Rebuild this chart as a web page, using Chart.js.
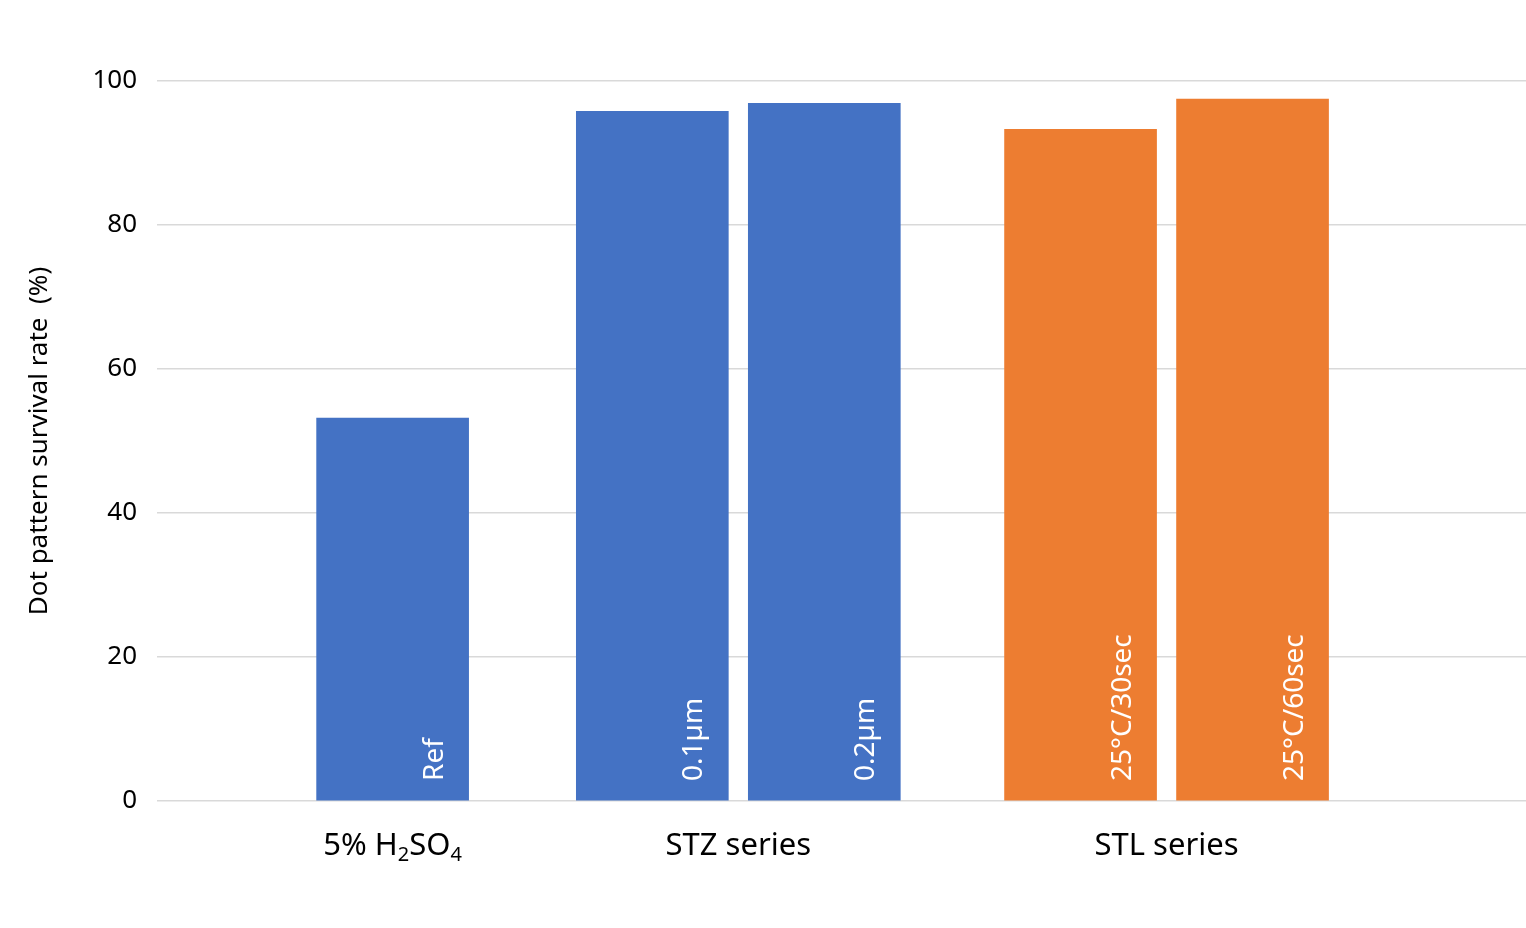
<!DOCTYPE html>
<html><head><meta charset="utf-8">
<script src="https://cdn.jsdelivr.net/npm/chart.js@4/dist/chart.umd.min.js"></script>
<style>html,body{margin:0;background:#fff}#wrap{width:1526px;height:928px}</style>
</head><body><div id="wrap"><canvas id="canvas"></canvas></div>
<script>
var barLabels = ['Ref', '0.1µm', '0.2µm', '25°C/30sec', '25°C/60sec'];
var barPos = [1.37, 2.88, 3.88, 5.37, 6.37];
var values = [53.2, 95.8, 96.9, 93.3, 97.5];
var barColors = ['#4472c4', '#4472c4', '#4472c4', '#ed7d31', '#ed7d31'];
var groupLabels = ['5% H2SO4', 'STZ series', 'STL series'];
var groupPos = [1.37, 3.38, 5.87];
var yTicks = [0, 20, 40, 60, 80, 100];

var FONT = '"Noto Sans", sans-serif';

var textPlugin = {
  id: 'texts',
  afterDatasetsDraw: function(chart) {
    var ctx = chart.ctx;
    var meta = chart.getDatasetMeta(0);
    ctx.save();
    ctx.fillStyle = '#fff';
    ctx.font = '28px ' + FONT;
    ctx.textAlign = 'left';
    ctx.textBaseline = 'middle';
    meta.data.forEach(function(bar, i) {
      ctx.save();
      ctx.translate(bar.x + 42, chart.scales.y.getPixelForValue(0) - 20);
      ctx.rotate(-Math.PI / 2);
      ctx.fillText(barLabels[i], 0, 0);
      ctx.restore();
    });
    // group labels
    ctx.fillStyle = '#000';
    var y = 846;
    groupLabels.forEach(function(l, i) {
      var x = chart.scales.x.getPixelForValue(groupPos[i]);
      if (l == '5% H2SO4') {
        var parts = [['5% H', 0], ['2', 1], ['SO', 0], ['4', 1]];
        var w = 0;
        parts.forEach(function(p) { ctx.font = (p[1] ? '20px ' : '31px ') + FONT; w += ctx.measureText(p[0]).width; });
        var cx = x - w / 2;
        ctx.textAlign = 'left';
        parts.forEach(function(p) {
          ctx.font = (p[1] ? '20px ' : '31px ') + FONT;
          ctx.fillText(p[0], cx, p[1] ? y + 9 : y);
          cx += ctx.measureText(p[0]).width;
        });
      } else {
        ctx.font = '31px ' + FONT;
        ctx.textAlign = 'center';
        ctx.fillText(l, x, y);
      }
    });
    ctx.restore();
  }
};

new Chart(document.getElementById('canvas'), {
  type: 'bar',
  data: {
    datasets: [{
      data: barPos.map(function(x, i) { return {x: x, y: values[i]}; }),
      backgroundColor: barColors,
      barThickness: 152
    }]
  },
  options: {
    responsive: true,
    maintainAspectRatio: false,
    animation: false,
    layout: {padding: {top: 81, right: 0, left: 20, bottom: 0}},
    plugins: {legend: {display: false}, tooltip: {enabled: false}},
    scales: {
      x: {
        type: 'linear', min: 0, max: 7.96, offset: false,
        grid: {display: false}, border: {display: false},
        ticks: {display: false},
        afterFit: function(s) { s.height = 127; }
      },
      y: {
        min: 0, max: 100,
        afterBuildTicks: function(s) { s.ticks = yTicks.map(function(v) { return {value: v}; }); },
        grid: {color: '#d9d9d9', lineWidth: 1.5, drawTicks: false},
        border: {display: false},
        ticks: {color: '#000', font: {family: FONT, size: 26}, padding: 20},
        title: {display: true, text: 'Dot pattern survival rate  (%)', color: '#000', font: {family: FONT, size: 26}},
        afterFit: function(s) { s.width = 137; }
      }
    }
  },
  plugins: [textPlugin]
});
</script></body></html>
